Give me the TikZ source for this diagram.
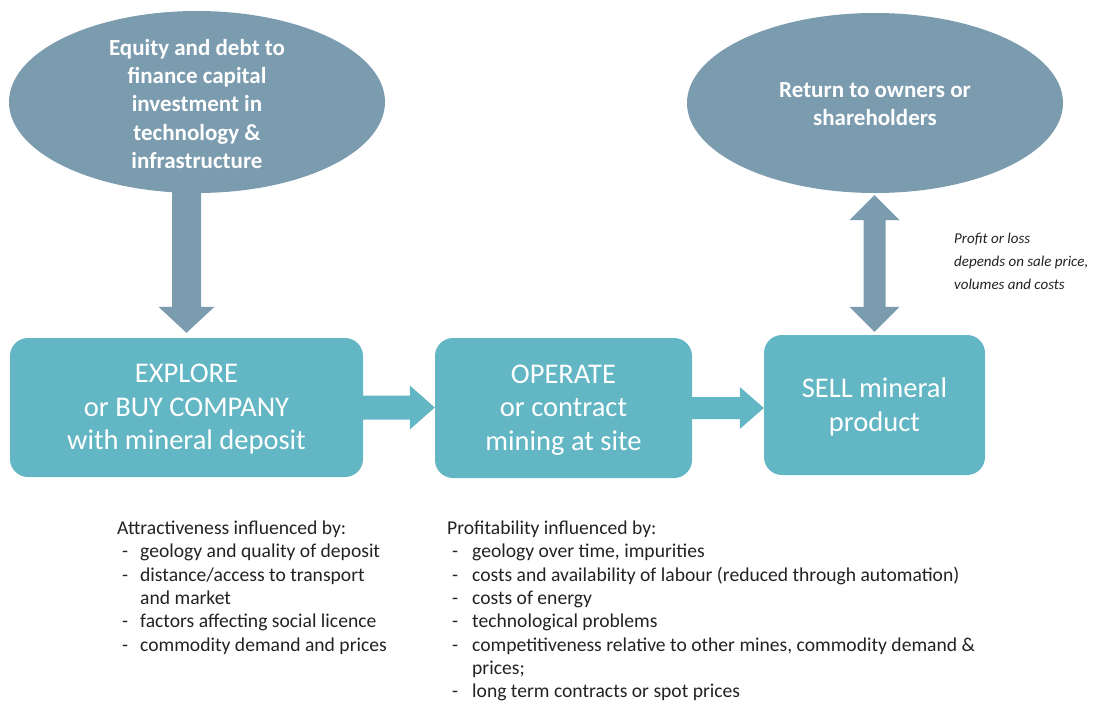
\documentclass[tikz,border=0pt]{standalone}
\usepackage{fontspec}
\setmainfont{Carlito}
\usetikzlibrary{calc,shapes.geometric}
\definecolor{steel}{RGB}{123,155,175}
\definecolor{tealbox}{RGB}{99,182,196}
\definecolor{ink}{RGB}{34,34,34}
\begin{document}
\begin{tikzpicture}[x=1pt,y=-1pt,
  ell/.style={ellipse, fill=steel, draw=none, inner sep=0pt},
  elltext/.style={text=white, font=\fontsize{23}{28.3}\selectfont\bfseries, align=center, inner sep=0pt},
  box/.style={rectangle, rounded corners=18pt, fill=tealbox, draw=none, inner sep=0pt},
  boxtext/.style={text=white, font=\fontsize{28.5}{33.5}\selectfont, align=center, inner sep=0pt},
  steelarrow/.style={fill=steel},
  tealarrow/.style={fill=tealbox},
  listtext/.style={text=ink, font=\fontsize{19.6}{23.3}\selectfont, inner sep=0pt, anchor=north west},
  notetext/.style={text=ink, font=\fontsize{15}{23}\selectfont\itshape, inner sep=0pt, anchor=north west}]
\useasboundingbox (0,0) rectangle (1114,702);

% boxes
\node[box, minimum width=353pt, minimum height=139pt] (b1) at (186.5,407.5) {};
\node[boxtext] (b1t) at ($(b1.center)+(0,2)$) {EXPLORE\\or BUY COMPANY\\with mineral deposit};
\node[box, minimum width=257pt, minimum height=140pt] (b2) at (563.5,408) {};
\node[boxtext] (b2t) at ($(b2.center)+(0,2)$) {OPERATE\\or contract\\mining at site};
\node[box, minimum width=221pt, minimum height=140pt] (b3) at (874.5,405) {};
\node[boxtext] (b3t) at ($(b3.center)+(0,2)$) {SELL mineral\\product};

% ellipses
\node[ell, minimum width=376pt, minimum height=182pt] (e1) at (197,102) {};
\node[elltext] (e1t) at ($(e1.center)+(0,2)$) {Equity and debt to\\finance capital\\investment in\\technology \&\\infrastructure};
\node[ell, minimum width=376pt, minimum height=180pt] (e2) at (875,103) {};
\node[elltext] (e2t) at ($(e2.center)+(0,1)$) {Return to owners or\\shareholders};

% down arrow ellipse -> box1
\coordinate (a1s) at ($(b1.north |- e1.south)+(0,-3)$);
\coordinate (a1e) at ($(b1.north)+(0,-5)$);
\fill[steelarrow] ($(a1s)+(-14.5,0)$) -- ($(a1s)+(14.5,0)$) -- ($(a1e)+(14.5,-26)$) -- ($(a1e)+(28,-26)$) -- (a1e) -- ($(a1e)+(-28,-26)$) -- ($(a1e)+(-14.5,-26)$) -- cycle;

% double arrow ellipse2 <-> box3
\coordinate (dt) at ($(b3.north |- e2.south)+(0,2)$);
\coordinate (db) at ($(b3.north)+(0,-3)$);
\fill[steelarrow] (dt) -- ($(dt)+(25,25)$) -- ($(dt)+(11,25)$) -- ($(db)+(11,-25)$) -- ($(db)+(25,-25)$) -- (db) -- ($(db)+(-25,-25)$) -- ($(db)+(-11,-25)$) -- ($(dt)+(-11,25)$) -- ($(dt)+(-25,25)$) -- cycle;

% right arrows
\coordinate (r1s) at (b1.east);
\coordinate (r1e) at (b2.west |- b1.east);
\fill[tealarrow] ($(r1s)+(0,-12)$) -- ($(r1e)+(-25,-12)$) -- ($(r1e)+(-25,-22)$) -- (r1e) -- ($(r1e)+(-25,22)$) -- ($(r1e)+(-25,12)$) -- ($(r1s)+(0,12)$) -- cycle;
\coordinate (r2s) at (b2.east);
\coordinate (r2e) at (b3.west |- b2.east);
\fill[tealarrow] ($(r2s)+(0,-11)$) -- ($(r2e)+(-24,-11)$) -- ($(r2e)+(-24,-21)$) -- (r2e) -- ($(r2e)+(-24,21)$) -- ($(r2e)+(-24,11)$) -- ($(r2s)+(0,11)$) -- cycle;

% note
\node[notetext] (note) at (954,227) {\begin{tabular}{@{}l@{}}Profit or loss\\depends on sale price,\\volumes and costs\end{tabular}};

% lists
\node[listtext] (l1) at (117,518) {\begin{tabular}{@{\hspace{5pt}}p{18pt}@{}l@{}}
\multicolumn{2}{@{}l@{}}{Attractiveness influenced by:}\\
- & geology and quality of deposit\\
- & distance/access to transport\\
  & and market\\
- & factors affecting social licence\\
- & commodity demand and prices
\end{tabular}};
\node[listtext] (l2) at (447,518) {\begin{tabular}{@{\hspace{5pt}}p{20pt}@{}l@{}}
\multicolumn{2}{@{}l@{}}{Profitability influenced by:}\\
- & geology over time, impurities\\
- & costs and availability of labour (reduced through automation)\\
- & costs of energy\\
- & technological problems\\
- & competitiveness relative to other mines, commodity demand \&\\
  & prices;\\
- & long term contracts or spot prices
\end{tabular}};
\end{tikzpicture}
\end{document}
